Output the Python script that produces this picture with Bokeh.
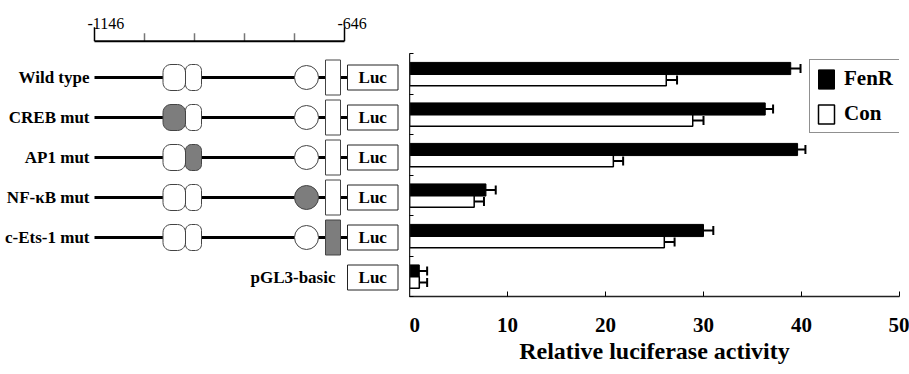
import numpy as np
from bokeh.plotting import figure
from bokeh.models import (Range1d, FixedTicker, ColumnDataSource, Whisker, TeeHead,
                          Legend, LegendItem)
from bokeh.layouts import row
from bokeh.embed import file_html
from bokeh.resources import INLINE
from bokeh.core.properties import value

# ---------------- data ----------------
categories = ["Wild type", "CREB mut", "AP1 mut", "NF-\u03baB mut", "c-Ets-1 mut", "pGL3-basic"]
mutated = [None, "CREB", "AP1", "NF-\u03baB", "c-Ets-1", None]
has_promoter = [True, True, True, True, True, False]

fenr = [38.9, 36.3, 39.6, 7.8, 30.0, 1.0]
fenr_err = [1.0, 0.8, 0.8, 1.0, 1.0, 0.8]
con = [26.2, 28.9, 20.8, 6.6, 26.0, 1.0]
con_err = [1.1, 1.1, 1.0, 1.0, 1.05, 0.8]
x_ticks = [0, 10, 20, 30, 40, 50]

# promoter map (bp)
map_start, map_end = -1146, -646
map_minor = [-1046, -946, -846, -746]
creb_site = (-1009, -964)
ap1_site = (-964, -932)
nfkb_site = -722
ets_site = (-684, -654)
luc_box = (-640, -539)

FONT = "Liberation Serif"
GRAY = "#7d7d7d"
EDGE = "#444444"
H = 374
BOTTOM = 78

# ---------------- left: promoter constructs ----------------
pl = figure(width=409, height=H, x_range=Range1d(-1334, -516), y_range=Range1d(5.975, -1.425),
            output_backend="svg", toolbar_location=None, x_axis_location=None,
            y_axis_location=None, min_border_left=0, min_border_right=0, min_border_top=0,
            min_border_bottom=BOTTOM)
pl.grid.visible = False
pl.outline_line_color = None

px_bp = 2.0      # bp per screen px
px_row = 1 / 40  # rows per screen px

# scale bar
bar_y = -0.4075
ticks_all = [map_start] + map_minor + [map_end]
tick_top = [bar_y - (14 if t in (map_start, map_end) else 8) * px_row for t in ticks_all]
pl.segment(x0=ticks_all, y0=[bar_y] * len(ticks_all), x1=ticks_all, y1=tick_top,
           line_color=["black" if t in (map_start, map_end) else "#777777" for t in ticks_all],
           line_width=1.5)
pl.segment(x0=[map_start], y0=[bar_y], x1=[map_end], y1=[bar_y], line_width=2, line_color="black")
pl.text(x=[map_start, map_end], y=[bar_y - 18 * px_row] * 2, text=[str(map_start), str(map_end)],
        text_align="left", x_offset=-7, text_baseline="alphabetic", text_font=value(FONT),
        text_font_size="16px", text_color="black")

ys = [i + 0.5 for i in range(len(categories))]


def rounded_box(x0, x1, yc, h_px, r_px):
    """rounded rectangle outline in data units"""
    rx, ry = r_px * px_bp, r_px * px_row
    h = h_px * px_row
    y0, y1 = yc - h / 2, yc + h / 2
    xs, yv = [], []
    corners = [(x1 - rx, y0 + ry, -np.pi / 2, 0), (x1 - rx, y1 - ry, 0, np.pi / 2),
               (x0 + rx, y1 - ry, np.pi / 2, np.pi), (x0 + rx, y0 + ry, np.pi, 1.5 * np.pi)]
    for cx, cy, a0, a1 in corners:
        t = np.linspace(a0, a1, 8)
        xs += list(cx + rx * np.cos(t))
        yv += list(cy + ry * np.sin(t))
    return xs, yv


prom_rows = [(y, m) for y, h, m in zip(ys, has_promoter, mutated) if h]
prom_y = [y for y, _ in prom_rows]

pl.segment(x0=[map_start] * len(prom_y), y0=prom_y, x1=[luc_box[0]] * len(prom_y), y1=prom_y,
           line_width=3, line_color="black")

oct_x, oct_y, oct_fill = [], [], []
for y, m in prom_rows:
    for site, name, r in ((creb_site, "CREB", 8), (ap1_site, "AP1", 6)):
        xs, yv = rounded_box(site[0], site[1], y, 26, r)
        oct_x.append(xs)
        oct_y.append(yv)
        oct_fill.append(GRAY if m == name else "white")
pl.patches(oct_x, oct_y, fill_color=oct_fill, line_color=EDGE, line_width=1)

pl.scatter(x=[nfkb_site] * len(prom_rows), y=prom_y, size=24, marker="circle",
           fill_color=[GRAY if m == "NF-\u03baB" else "white" for _, m in prom_rows],
           line_color=EDGE, line_width=1)

pl.rect(x=[(ets_site[0] + ets_site[1]) / 2] * len(prom_rows), y=prom_y,
        width=ets_site[1] - ets_site[0], height=35 * px_row,
        fill_color=[GRAY if m == "c-Ets-1" else "white" for _, m in prom_rows],
        line_color=EDGE, line_width=1)

luc_c = (luc_box[0] + luc_box[1]) / 2
pl.rect(x=[luc_c] * len(ys), y=ys, width=luc_box[1] - luc_box[0], height=25 * px_row,
        fill_color="white", line_color="#222222", line_width=1)
pl.text(x=[luc_c] * len(ys), y=ys, text=["Luc"] * len(ys), text_align="center",
        text_baseline="middle", text_font=value(FONT), text_font_style="bold",
        text_font_size="17px", text_color="black")

label_x = [map_start - 10 if h else luc_box[0] - 24 for h in has_promoter]
pl.text(x=label_x, y=ys, text=categories, text_align="right", text_baseline="middle",
        text_font=value(FONT), text_font_style="bold", text_font_size="17px", text_color="black")

# ---------------- right: bar chart ----------------
n = len(categories)
pr = figure(width=500, height=H, x_range=Range1d(0, 50), y_range=Range1d(n, -1.309),
            output_backend="svg", toolbar_location=None, min_border_left=0, min_border_right=10,
            min_border_top=0, min_border_bottom=BOTTOM)
pr.grid.visible = False
pr.outline_line_color = None

y_f = [i + 0.37 for i in range(n)]
y_c = [i + 0.655 for i in range(n)]
src = ColumnDataSource(dict(
    y_f=y_f, y_c=y_c, fenr=fenr, con=con,
    f_lo=[v - e for v, e in zip(fenr, fenr_err)], f_hi=[v + e for v, e in zip(fenr, fenr_err)],
    c_lo=[v - e for v, e in zip(con, con_err)], c_hi=[v + e for v, e in zip(con, con_err)],
))

rf = pr.hbar(y="y_f", left=0, right="fenr", height=0.30, source=src,
             fill_color="black", line_color="black", line_width=1)
rc = pr.hbar(y="y_c", left=0, right="con", height=0.28, source=src,
             fill_color="white", line_color="black", line_width=1.5)

for base, lo, hi in (("y_f", "f_lo", "f_hi"), ("y_c", "c_lo", "c_hi")):
    pr.add_layout(Whisker(source=src, base=base, lower=lo, upper=hi, dimension="width",
                          line_width=2, line_color="black",
                          upper_head=TeeHead(size=9, line_width=2, line_color="black"),
                          lower_head=TeeHead(size=9, line_width=2, line_color="black")))

xa = pr.xaxis[0]
xa.ticker = FixedTicker(ticks=x_ticks)
xa.axis_line_width = 1.5
xa.axis_line_color = "#222222"
xa.major_tick_in = 5
xa.major_tick_out = 0
xa.minor_tick_in = 0
xa.minor_tick_out = 0
xa.major_label_text_font = FONT
xa.major_label_text_font_style = "bold"
xa.major_label_text_font_size = "21px"
xa.major_label_text_color = "black"
xa.major_label_standoff = 21
xa.axis_label = "Relative luciferase activity"
xa.axis_label_text_font = FONT
xa.axis_label_text_font_style = "bold"
xa.axis_label_text_font_size = "24px"
xa.axis_label_text_color = "black"
xa.axis_label_standoff = 3

ya = pr.yaxis[0]
ya.ticker = FixedTicker(ticks=list(range(n + 1)))
ya.bounds = (0, n)
ya.major_label_overrides = {i: "" for i in range(n + 1)}
ya.major_label_standoff = 0
ya.major_tick_in = 4
ya.major_tick_out = 0
ya.minor_tick_in = 0
ya.minor_tick_out = 0
ya.axis_line_width = 1.5
ya.axis_line_color = "#222222"

legend = Legend(items=[LegendItem(label="FenR", renderers=[rf]), LegendItem(label="Con", renderers=[rc])],
                location=(400, 163), glyph_width=20, glyph_height=24, label_text_font=FONT,
                label_text_font_style="bold", label_text_font_size="21px", label_standoff=8,
                label_text_color="black",
                spacing=10, padding=6, margin=0, border_line_color="#222222", border_line_width=1.5,
                background_fill_color="white", background_fill_alpha=1.0)
pr.add_layout(legend)

layout = row(pl, pr)
open("out.html", "w").write(file_html(layout, INLINE))
